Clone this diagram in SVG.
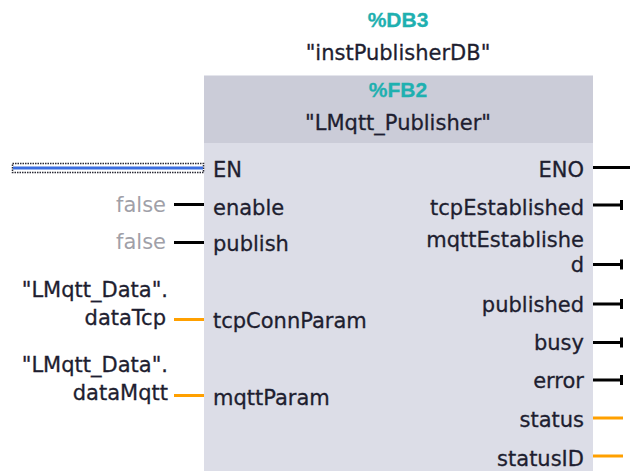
<svg xmlns="http://www.w3.org/2000/svg" width="630" height="471" viewBox="0 0 630 471">
<defs>
<style>
text{font-family:"DejaVu Sans","Liberation Sans",sans-serif;font-size:21px;fill:#1e1e30;stroke:#1e1e30;stroke-width:0.3}
.teal{fill:#1fb0b0;stroke:#1fb0b0;font-family:"Liberation Sans","DejaVu Sans",sans-serif;font-weight:bold}
.mid{text-anchor:middle}
.end{text-anchor:end}
.val{fill:#a0a0a8;stroke:none}
.blk{stroke:#000;stroke-width:3;fill:none}
.org{stroke:#ffa000;stroke-width:3;fill:none}
.sepL{stroke:url(#gL);stroke-width:1.5}
.sepR{stroke:url(#gR);stroke-width:1.5}
</style>
<linearGradient id="gL" x1="0" x2="1" y1="0" y2="0"><stop offset="0" stop-color="#fff" stop-opacity="1"/><stop offset="0.6" stop-color="#fff" stop-opacity="0.9"/><stop offset="1" stop-color="#fff" stop-opacity="0"/></linearGradient>
<linearGradient id="gR" x1="1" x2="0" y1="0" y2="0"><stop offset="0" stop-color="#fff" stop-opacity="1"/><stop offset="0.6" stop-color="#fff" stop-opacity="0.9"/><stop offset="1" stop-color="#fff" stop-opacity="0"/></linearGradient>
</defs>
<rect width="630" height="471" fill="#fff"/>

<g id="instance">
<text class="teal mid" x="398" y="27">%DB3</text>
<text class="mid" x="398" y="60">"instPublisherDB"</text>
</g>

<g id="block">
<rect x="204" y="75" width="389" height="400" fill="#dcdde7"/>
<rect x="204" y="75" width="389" height="68" fill="#cbccd8"/>
<line x1="204" y1="75.5" x2="593" y2="75.5" stroke="#e4e5ec" stroke-width="1"/>
<text class="teal mid" x="398" y="97">%FB2</text>
<text class="mid" x="398" y="130" stroke-width="0.7">"LMqtt_Publisher"</text>

<text x="213" y="177">EN</text>
<line class="sepL" x1="213" y1="186" x2="252" y2="186"/>
<text x="213" y="215">enable</text>
<line class="sepL" x1="213" y1="224" x2="292" y2="224"/>
<text x="213" y="251">publish</text>
<line class="sepL" x1="213" y1="262" x2="302" y2="262"/>
<text x="213" y="328">tcpConnParam</text>
<line class="sepL" x1="213" y1="338" x2="368" y2="338"/>
<text x="213" y="405">mqttParam</text>

<text class="end" x="584" y="177">ENO</text>
<line class="sepR" x1="534" y1="186" x2="584" y2="186"/>
<text class="end" x="584" y="215">tcpEstablished</text>
<line class="sepR" x1="430" y1="224" x2="584" y2="224"/>
<text class="end" x="584" y="247">mqttEstablishe</text>
<text class="end" x="584" y="272">d</text>
<line class="sepR" x1="430" y1="285" x2="584" y2="285"/>
<text class="end" x="584" y="312">published</text>
<line class="sepR" x1="483" y1="323" x2="584" y2="323"/>
<text class="end" x="584" y="350">busy</text>
<line class="sepR" x1="530" y1="361" x2="584" y2="361"/>
<text class="end" x="584" y="388">error</text>
<line class="sepR" x1="530" y1="399" x2="584" y2="399"/>
<text class="end" x="584" y="427">status</text>
<line class="sepR" x1="510" y1="437" x2="584" y2="437"/>
<text class="end" x="584" y="466">statusID</text>
</g>

<g id="inputs">
<text class="val end" x="166" y="212">false</text>
<text class="val end" x="166" y="249">false</text>
<text class="end" x="168" y="297">"LMqtt_Data".</text>
<text class="end" x="166" y="325">dataTcp</text>
<text class="end" x="168" y="372">"LMqtt_Data".</text>
<text class="end" x="168" y="400">dataMqtt</text>
</g>

<g id="connectors">
<rect x="12.5" y="163.5" width="191" height="9" fill="#fff" stroke="#2a2a34" stroke-width="1.5" stroke-dasharray="1.5 1"/>
<line x1="13" y1="168" x2="203" y2="168" stroke="#3b6ee0" stroke-width="3"/>
<line class="blk" x1="174" y1="204.5" x2="204" y2="204.5"/>
<line class="blk" x1="174" y1="242.5" x2="204" y2="242.5"/>
<line class="org" x1="174" y1="319.5" x2="204" y2="319.5"/>
<line class="org" x1="174" y1="395.5" x2="204" y2="395.5"/>

<line class="blk" x1="593" y1="167.5" x2="630" y2="167.5"/>
<path class="blk" d="M593 205H622M621.5 200V210"/>
<path class="blk" d="M593 264.5H622M621.5 259.5V269.5"/>
<path class="blk" d="M593 304H622M621.5 299V309"/>
<path class="blk" d="M593 342.5H622M621.5 337.5V347.5"/>
<path class="blk" d="M593 380H622M621.5 375V385"/>
<line class="org" x1="593" y1="418" x2="623" y2="418"/>
<line class="org" x1="593" y1="456" x2="623" y2="456"/>
</g>
</svg>
